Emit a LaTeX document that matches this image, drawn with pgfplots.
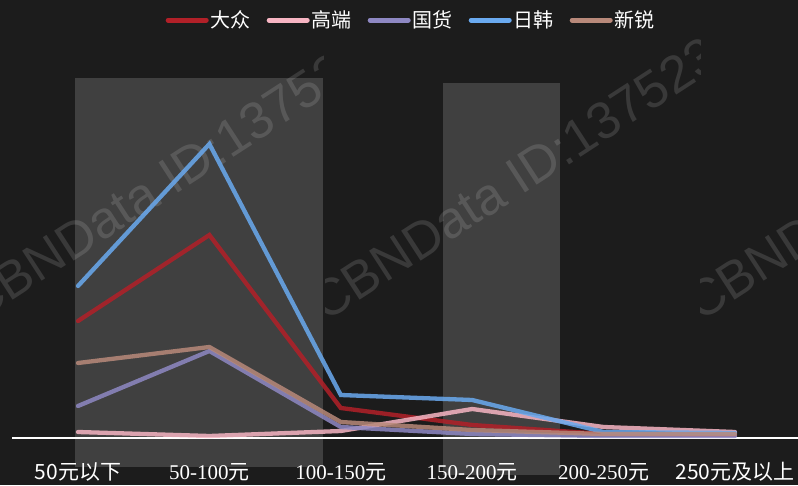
\documentclass[border=0pt]{standalone}
\usepackage{pgfplots}
\pgfplotsset{compat=1.18}
\usepackage{fontspec}
\setmainfont{Liberation Sans}
\newfontfamily\cjk{Noto Sans CJK SC}
\newfontfamily\ser{Liberation Serif}
\definecolor{bg}{HTML}{1C1C1C}
\definecolor{panel}{HTML}{404040}
\definecolor{cDZ}{HTML}{B22028}
\definecolor{cGD}{HTML}{F7B5C3}
\definecolor{cGH}{HTML}{8E88C3}
\definecolor{cRH}{HTML}{6AAAF0}
\definecolor{cXR}{HTML}{B8897A}
\begin{document}
\begin{tikzpicture}[x=1pt,y=1pt]
\useasboundingbox (0,0) rectangle (798,485);
\fill[bg] (0,0) rectangle (798,485);
\fill[panel] (75,18) rectangle (323,407);
\fill[panel] (443,10) rectangle (560,402);
% watermark tiles
\begin{scope}
\clip (-60,0) rectangle (323,485);
\node[rotate=33, anchor=base west, inner sep=0, text=white, opacity=0.13, font=\fontsize{52}{56}\selectfont] at (-22,162) {CBNData ID:137523};
\end{scope}
\begin{scope}
\clip (325,0) rectangle (700,485);
\node[rotate=33, anchor=base west, inner sep=0, text=white, opacity=0.13, font=\fontsize{52}{56}\selectfont] at (325,162) {CBNData ID:137523};
\end{scope}
\begin{scope}
\clip (700,0) rectangle (798,485);
\node[rotate=33, anchor=base west, inner sep=0, text=white, opacity=0.13, font=\fontsize{52}{56}\selectfont] at (700,162) {CBNData ID:137523};
\end{scope}
\begin{axis}[
  at={(12.3pt,47pt)}, anchor=south west,
  scale only axis, width=788.4pt, height=300pt,
  xmin=-0.5, xmax=5.5, ymin=0, ymax=60,
  axis y line=none, axis x line*=bottom,
  x axis line style={white, line width=2pt, -},
  xtick={0,1,2,3,4,5},
  xticklabels={{\cjk 50元以下},{\ser 50-100\cjk 元},{\ser 100-150\cjk 元},{\ser 150-200\cjk 元},{\ser 200-250\cjk 元},{\cjk 250元及以上}},
  major tick length=0pt, ytick=\empty,
  xticklabel style={text=white, font=\fontsize{21}{24}\selectfont, anchor=center, yshift=-34pt},
  clip=false,
  legend columns=5,
  legend style={at={(0.506,1.393)}, anchor=center, draw=none, fill=none, text=white,
    font=\cjk\fontsize{20}{22}\selectfont, inner sep=0pt,
    /tikz/every even column/.append style={column sep=14pt}},
  legend image code/.code={\draw[#1, line width=5pt, line cap=round, draw opacity=1] (0pt,0pt) -- (38pt,0pt);},
  every axis plot/.append style={line width=4.3pt, line cap=round, opacity=0.85, mark=none},
]
\addplot[cDZ] coordinates {(0,23.4) (1,40.6) (2,6.0) (3,2.6) (4,0.8) (5,0.6)};
\addlegendentry{大众}
\addplot[cGD] coordinates {(0,1.2) (1,0.4) (2,1.4) (3,5.8) (4,2.2) (5,1.2)};
\addlegendentry{高端}
\addplot[cGH] coordinates {(0,6.4) (1,17.4) (2,2.2) (3,0.8) (4,0.4) (5,0.4)};
\addlegendentry{国货}
\addplot[cRH] coordinates {(0,30.4) (1,58.8) (2,8.6) (3,7.6) (4,1.2) (5,1.0)};
\addlegendentry{日韩}
\addplot[cXR] coordinates {(0,15.0) (1,18.2) (2,3.2) (3,1.6) (4,0.8) (5,0.8)};
\addlegendentry{新锐}
\end{axis}
\end{tikzpicture}
\end{document}
